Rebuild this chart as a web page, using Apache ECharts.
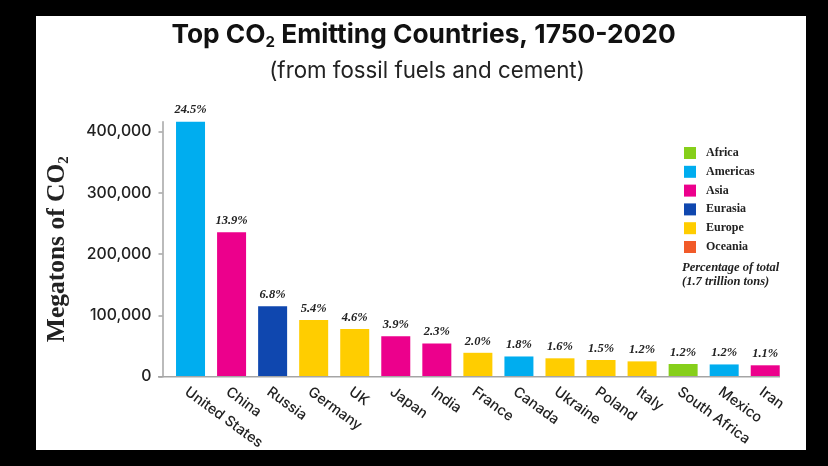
<!DOCTYPE html>
<html>
<head>
<meta charset="utf-8">
<style>
  html, body { margin: 0; padding: 0; background: #000; }
  #chart { width: 828px; height: 466px; }
</style>
<script src="https://cdn.jsdelivr.net/npm/echarts@6/dist/echarts.min.js"></script>
</head>
<body>
<div id="chart"></div>
<script>
var countries = ['United States', 'China', 'Russia', 'Germany', 'UK', 'Japan', 'India', 'France', 'Canada', 'Ukraine', 'Poland', 'Italy', 'South Africa', 'Mexico', 'Iran'];
var megatons = [416000, 235500, 115000, 92500, 77800, 66000, 54000, 39000, 33000, 30000, 27200, 25000, 20700, 20000, 18600];
var shares = ['24.5%', '13.9%', '6.8%', '5.4%', '4.6%', '3.9%', '2.3%', '2.0%', '1.8%', '1.6%', '1.5%', '1.2%', '1.2%', '1.2%', '1.1%'];
var countryRegions = ['Americas', 'Asia', 'Eurasia', 'Europe', 'Europe', 'Asia', 'Asia', 'Europe', 'Americas', 'Europe', 'Europe', 'Europe', 'Africa', 'Americas', 'Asia'];
var regions = ['Africa', 'Americas', 'Asia', 'Eurasia', 'Europe', 'Oceania'];
var regionColors = ['#86cf1a', '#00adef', '#ec008c', '#0f47af', '#ffcd00', '#f15a29'];
var yTicks = [0, 100000, 200000, 300000, 400000];

var serif = '"Liberation Serif", serif';
var sans = 'Inter, sans-serif';

var myChart = echarts.init(document.getElementById('chart'));

var series = regions.map(function(region) {
    return {
        name: region,
        type: 'bar',
        stack: 'total',
        barWidth: 29,
        data: megatons.map(function(v, i) {
            return countryRegions[i] === region ? v : null;
        }),
        label: {
            show: true,
            position: 'top',
            distance: 5,
            fontFamily: serif,
            fontStyle: 'italic',
            fontWeight: 'bold',
            fontSize: 12.5,
            color: '#222',
            formatter: function(p) {
                return shares[p.dataIndex];
            }
        }
    };
});

myChart.setOption({
    backgroundColor: '#000',
    color: regionColors,
    animation: false,
    title: [
        {
            text: 'Top CO{sub|2} Emitting Countries, 1750-2020',
            left: 418.5,
            top: 15,
            textAlign: 'center',
            textStyle: {
                fontFamily: sans,
                fontWeight: 'bold',
                fontSize: 26.3,
                color: '#111',
                rich: {
                    sub: { fontFamily: sans, fontWeight: 'bold', fontSize: 15, color: '#111', padding: [15, 0, 0, 0] }
                }
            }
        },
        {
            text: '(from fossil fuels and cement)',
            left: 422,
            top: 55,
            textAlign: 'center',
            textStyle: { fontFamily: sans, fontWeight: 'normal', fontSize: 22.3, color: '#222' }
        },
        {
            text: 'Percentage of total\n(1.7 trillion tons)',
            left: 677,
            top: 256,
            textStyle: { fontFamily: serif, fontStyle: 'italic', fontWeight: 'bold', fontSize: 12.5, lineHeight: 14, color: '#222' }
        }
    ],
    legend: {
        data: regions,
        orient: 'vertical',
        left: 679,
        top: 142,
        itemWidth: 12,
        itemHeight: 12,
        itemGap: 6.8,
        icon: 'rect',
        textStyle: { fontFamily: serif, fontWeight: 'bold', fontSize: 12, color: '#222', padding: [0, 0, 0, 5] }
    },
    grid: { left: 170, top: 121.7, width: 615.75, height: 255 },
    xAxis: {
        type: 'category',
        data: countries,
        axisLine: { show: false },
        axisTick: { show: false },
        axisLabel: {
            rotate: -36,
            interval: 0,
            margin: 8,
            verticalAlign: 'top',
            fontFamily: sans,
            fontWeight: 500,
            fontSize: 14.4,
            color: '#222'
        }
    },
    yAxis: {
        type: 'value',
        min: 0,
        max: 416000,
        offset: 7.5,
        name: 'Megatons of CO{sub|2}',
        nameLocation: 'middle',
        nameGap: 91,
        nameRotate: 90,
        nameTextStyle: {
            fontFamily: serif,
            fontWeight: 'bold',
            fontSize: 25.5,
            color: '#222',
            rich: {
                sub: { fontFamily: serif, fontWeight: 'bold', fontSize: 15, color: '#222', padding: [13, 0, 0, 0] }
            }
        },
        splitLine: { show: false },
        axisLine: { show: true, lineStyle: { color: '#a5a5a5', width: 1.5 } },
        axisTick: { show: true, length: 4, lineStyle: { color: '#a5a5a5', width: 1.5 }, customValues: yTicks },
        axisLabel: {
            margin: 11,
            fontFamily: sans,
            fontWeight: 500,
            fontSize: 15.8,
            color: '#222',
            customValues: yTicks,
            formatter: function(v) {
                return v.toLocaleString('en-US');
            }
        }
    },
    graphic: [
        {
            type: 'rect',
            z: -1,
            silent: true,
            shape: { x: 36, y: 16, width: 770, height: 434 },
            style: { fill: '#fff' }
        },
        {
            type: 'line',
            z: 10,
            silent: true,
            shape: { x1: 158, y1: 376.7, x2: 780, y2: 376.7 },
            style: { stroke: '#a5a5a5', lineWidth: 1.5 }
        }
    ],
    series: series
});
</script>
</body>
</html>
